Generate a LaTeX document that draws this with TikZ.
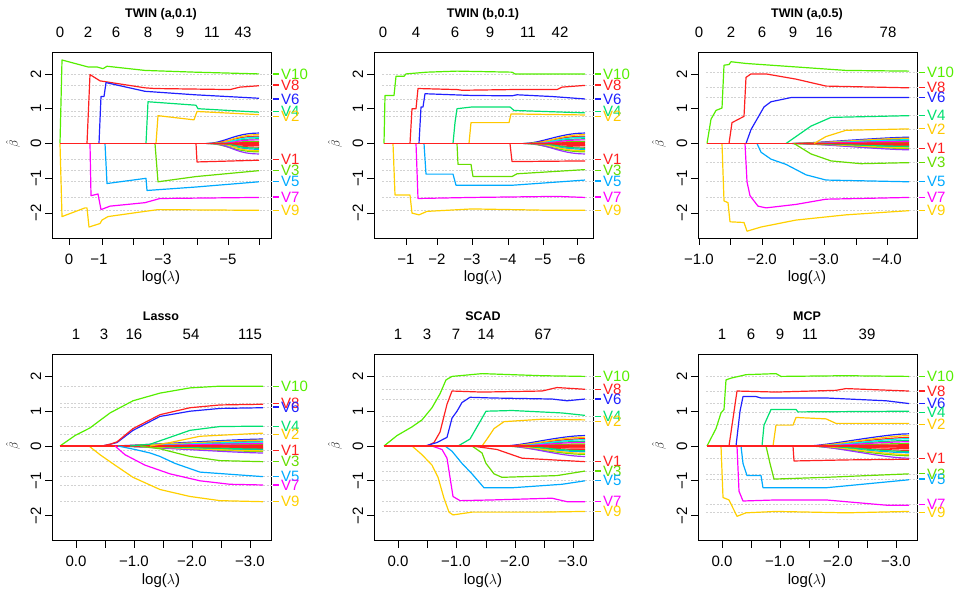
\documentclass[tikz,border=0pt]{standalone}
\usepackage{fontspec}
\setmainfont{Liberation Sans}
\definecolor{V1}{HTML}{FF2020}
\definecolor{V2}{HTML}{FFC800}
\definecolor{V3}{HTML}{66DD00}
\definecolor{V4}{HTML}{00E070}
\definecolor{V5}{HTML}{00AAFF}
\definecolor{V6}{HTML}{2020FF}
\definecolor{V7}{HTML}{FF00FF}
\definecolor{V8}{HTML}{FF2020}
\definecolor{V9}{HTML}{FFD000}
\definecolor{V10}{HTML}{55EE00}
\definecolor{Vc}{HTML}{00EEEE}
\definecolor{Vp}{HTML}{9933FF}
\tikzstyle{frame}=[draw, line width=1pt]
\tikzstyle{tk}=[line width=0.8pt]
\tikzstyle{num}=[font=\fontsize{15}{15}\selectfont, inner sep=0pt]
\tikzstyle{ttl}=[font=\fontsize{12.5}{12.5}\selectfont\bfseries, inner sep=0pt]
\tikzstyle{vname}=[font=\fontsize{15}{15}\selectfont, inner sep=0pt]
\tikzstyle{grid}=[gray!35, dash pattern=on 2pt off 1.5pt, line width=0.6pt]
\tikzstyle{pl}=[line width=1.2pt, line join=round]
\newcommand\vlab[3]{
  \draw[grid] (60,#3) -- (272,#3);
  \draw[#2, line width=1.2pt] (273,#3) -- (279,#3);
  \node[vname, text=#2, anchor=west] (#1#2) at (281,#3) {#2};}
\newcommand\noise[3]{
  \foreach \v/\c [count=\i] in {1/V6,-0.8/V3,0.7/V1,-0.55/V5,0.45/V4,-1/Vp,0.85/V2,-0.35/V8,0.2/V10,-0.7/V9,0.6/Vc,-0.2/V1,0.35/V7,-0.45/V4,0.1/V1,-0.1/V8}
    \draw[pl, \c] ({#1+\i},0) .. controls ({#1+18+\i},0) and ({#2-25},{\v*#3}) .. (#2,{\v*#3});
  \draw[pl, V1] (#1,0) -- (#2,0);}
\newcommand\axes[4]{
  \draw[frame] (52,52) rectangle (271,238);
  \foreach \b in {-2,-1,0,1,2} {
    \draw[tk] (52,{143.5-34.8*\b}) -- (45,{143.5-34.8*\b});
    \node[num, rotate=90] at (36,{143.5-34.8*\b}) {\ifnum\b<0 −\the\numexpr-\b\relax\else\b\fi};}
  \node[num, rotate=90, font=\fontsize{12}{12}\selectfont] (#1beta) at (13,143.5) {$\hat\beta$};
  \node[ttl] (#1title) at (161,14) {#2};
  \node[num] (#1xlab) at (161,278) {log($\lambda$)};}
\begin{document}
\begin{tikzpicture}[x=1pt, y=-1pt]
\useasboundingbox (0,0) rectangle (969,606);
% TWIN (a,0.1)
\begin{scope}[shift={(0,0)}]
  \axes{tl}{TWIN (a,0.1)}{}{}
  \foreach \x/\t in {60/0,88/2,116/6,148/8,180/9,212/11,243/43} \node[num] at (\x,32) {\t};
  \draw[tk] (69,238) -- (259,238);
  \foreach \x in {69,102,133,163,197,228,259} \draw[tk] (\x,238) -- (\x,245);
  \foreach \x/\t in {69/0,99/−1,163/−3,228/−5} \node[num] at (\x,259) {\t};
  \begin{scope}[shift={(0,143.5)}, y=34.8pt]
    \vlab{tl}{V10}{2.0} \vlab{tl}{V8}{1.68} \vlab{tl}{V6}{1.28} \vlab{tl}{V4}{0.93} \vlab{tl}{V2}{0.78}
    \vlab{tl}{V1}{-0.45} \vlab{tl}{V3}{-0.78} \vlab{tl}{V5}{-1.1} \vlab{tl}{V7}{-1.54} \vlab{tl}{V9}{-1.92}
    \noise{205}{259}{0.3}
    \draw[pl, V10] (60,0) -- (62,2.4) -- (88,2.2) -- (97,2.2) -- (103,2.15) -- (107,2.22) -- (145,2.1) -- (195,2.05) -- (259,2.0);
    \draw[pl, V9] (60,0) -- (62,-2.1) -- (85,-1.85) -- (87,-1.85) -- (89,-2.4) -- (100,-2.3) -- (102,-2.2) -- (108,-2.1) -- (145,-1.95) -- (158,-1.9) -- (259,-1.92);
    \draw[pl, V8] (87,0) -- (90,1.98) -- (100,1.8) -- (145,1.6) -- (155,1.58) -- (230,1.55) -- (240,1.62) -- (259,1.66);
    \draw[pl, V7] (90,0) -- (91,-1.5) -- (98,-1.45) -- (101,-1.9) -- (110,-1.8) -- (145,-1.7) -- (160,-1.58) -- (259,-1.55);
    \draw[pl, V6] (99,0) -- (101,1.35) -- (104,1.35) -- (106,1.75) -- (145,1.5) -- (195,1.4) -- (259,1.3);
    \draw[pl, V5] (105,0) -- (107,-1.15) -- (146,-1.0) -- (147,-1.35) -- (196,-1.25) -- (259,-1.1);
    \draw[pl, V4] (146,0) -- (148,1.2) -- (196,1.1) -- (198,1.0) -- (259,0.9);
    \draw[pl, V3] (155,0) -- (158,-1.1) -- (196,-0.95) -- (259,-0.78);
    \draw[pl, V2] (156,0) -- (158,0.8) -- (194,0.68) -- (197,0.92) -- (259,0.83);
    \draw[pl, V1] (196,0) -- (197,-0.53) -- (259,-0.48);
    \draw[pl, V1] (60,0) -- (205,0);
  \end{scope}
\end{scope}
% TWIN (b,0.1)
\begin{scope}[shift={(322,0)}]
  \axes{tm}{TWIN (b,0.1)}{}{}
  \foreach \x/\t in {61/0,94/4,133/6,168/9,206/11,238/42} \node[num] at (\x,32) {\t};
  \draw[tk] (84,238) -- (255,238);
  \foreach \x in {84,115,150,186,221,255} \draw[tk] (\x,238) -- (\x,245);
  \foreach \x/\t in {84/−1,115/−2,150/−3,186/−4,221/−5,255/−6} \node[num] at (\x,259) {\t};
  \begin{scope}[shift={(0,143.5)}, y=34.8pt]
    \vlab{tm}{V10}{2.0} \vlab{tm}{V8}{1.68} \vlab{tm}{V6}{1.28} \vlab{tm}{V4}{0.93} \vlab{tm}{V2}{0.78}
    \vlab{tm}{V1}{-0.45} \vlab{tm}{V3}{-0.78} \vlab{tm}{V5}{-1.08} \vlab{tm}{V7}{-1.54} \vlab{tm}{V9}{-1.92}
    \noise{200}{263}{0.3}
    \draw[pl, V10] (62,0) -- (63,1.38) -- (72,1.38) -- (74,1.93) -- (82,1.93) -- (84,2.0) -- (105,2.05) -- (135,2.08) -- (190,2.05) -- (193,2.0) -- (263,2.0);
    \draw[pl, V9] (71,0) -- (73,-1.48) -- (88,-1.48) -- (90,-2.0) -- (97,-2.05) -- (105,-1.95) -- (150,-1.88) -- (230,-1.92) -- (263,-1.92);
    \draw[pl, V8] (88,0) -- (90,1.0) -- (94,1.0) -- (96,1.58) -- (135,1.55) -- (140,1.53) -- (190,1.55) -- (235,1.55) -- (240,1.62) -- (263,1.67);
    \draw[pl, V7] (94,0) -- (96,-1.58) -- (150,-1.55) -- (235,-1.52) -- (263,-1.55);
    \draw[pl, V6] (97,0) -- (99,1.05) -- (101,1.05) -- (103,1.43) -- (150,1.38) -- (190,1.37) -- (195,1.4) -- (230,1.35) -- (263,1.28);
    \draw[pl, V5] (102,0) -- (104,-0.88) -- (131,-0.88) -- (134,-1.2) -- (190,-1.2) -- (263,-1.05);
    \draw[pl, V4] (131,0) -- (133,0.6) -- (135,1.0) -- (150,1.05) -- (188,1.05) -- (192,0.95) -- (263,0.88);
    \draw[pl, V3] (135,0) -- (136,-0.6) -- (149,-0.6) -- (151,-0.95) -- (190,-0.95) -- (195,-0.87) -- (263,-0.75);
    \draw[pl, V2] (147,0) -- (149,0.6) -- (187,0.6) -- (189,0.85) -- (263,0.82);
    \draw[pl, V1] (188,0) -- (190,-0.52) -- (263,-0.5);
    \draw[pl, V1] (62,0) -- (200,0);
  \end{scope}
\end{scope}
% TWIN (a,0.5)
\begin{scope}[shift={(646,0)}]
  \axes{tr}{TWIN (a,0.5)}{}{}
  \foreach \x/\t in {53/0,85/2,116/6,147/9,178/16,242/78} \node[num] at (\x,32) {\t};
  \draw[tk] (53,238) -- (241,238);
  \foreach \x in {53,84,116,147,178,210,241} \draw[tk] (\x,238) -- (\x,245);
  \foreach \x/\t in {53/−1.0,116/−2.0,178/−3.0,241/−4.0} \node[num] at (\x,259) {\t};
  \begin{scope}[shift={(0,143.5)}, y=34.8pt]
    \vlab{tr}{V10}{2.05} \vlab{tr}{V8}{1.62} \vlab{tr}{V6}{1.32} \vlab{tr}{V4}{0.8} \vlab{tr}{V2}{0.42}
    \vlab{tr}{V1}{-0.15} \vlab{tr}{V3}{-0.55} \vlab{tr}{V5}{-1.1} \vlab{tr}{V7}{-1.55} \vlab{tr}{V9}{-1.93}
    \noise{145}{263}{0.18}
    \draw[pl, V10] (61,0) -- (65,0.7) -- (70,0.95) -- (76,1.02) -- (78,2.25) -- (83,2.27) -- (85,2.35) -- (100,2.3) -- (150,2.2) -- (200,2.1) -- (263,2.08);
    \draw[pl, V9] (76,0) -- (78,-1.65) -- (82,-1.7) -- (84,-2.25) -- (98,-2.27) -- (101,-2.52) -- (115,-2.4) -- (150,-2.2) -- (200,-2.05) -- (263,-1.93);
    \draw[pl, V8] (83,0) -- (86,0.6) -- (98,0.78) -- (100,1.9) -- (105,2.0) -- (120,2.0) -- (150,1.85) -- (180,1.65) -- (263,1.6);
    \draw[pl, V7] (99,0) -- (101,-1.1) -- (104,-1.5) -- (112,-1.8) -- (120,-1.85) -- (150,-1.75) -- (180,-1.6) -- (263,-1.55);
    \draw[pl, V6] (100,0) -- (105,0.4) -- (112,0.75) -- (118,1.05) -- (125,1.2) -- (145,1.32) -- (263,1.32);
    \draw[pl, V5] (111,0) -- (115,-0.25) -- (125,-0.45) -- (140,-0.6) -- (160,-0.9) -- (180,-1.05) -- (263,-1.1);
    \draw[pl, V4] (140,0) -- (150,0.2) -- (165,0.5) -- (185,0.75) -- (263,0.8);
    \draw[pl, V3] (148,0) -- (165,-0.3) -- (185,-0.5) -- (215,-0.58) -- (263,-0.55);
    \draw[pl, V2] (168,0) -- (180,0.2) -- (200,0.38) -- (263,0.42);
    \draw[pl, V1] (61,0) -- (145,0);
  \end{scope}
\end{scope}
% Lasso
\begin{scope}[shift={(0,302.5)}]
  \axes{bl}{Lasso}{}{}
  \foreach \x/\t in {76/1,104/3,134/16,191/54,250/115} \node[num] at (\x,32) {\t};
  \draw[tk] (76,238) -- (250,238);
  \foreach \x in {76,105,134,163,192,221,250} \draw[tk] (\x,238) -- (\x,245);
  \foreach \x/\t in {76/0.0,134/−1.0,192/−2.0,250/−3.0} \node[num] at (\x,259) {\t};
  \begin{scope}[shift={(0,143.5)}, y=34.8pt]
    \vlab{bl}{V10}{1.72} \vlab{bl}{V8}{1.22} \vlab{bl}{V6}{1.12} \vlab{bl}{V4}{0.57} \vlab{bl}{V2}{0.33}
    \vlab{bl}{V1}{-0.12} \vlab{bl}{V3}{-0.45} \vlab{bl}{V5}{-0.88} \vlab{bl}{V7}{-1.12} \vlab{bl}{V9}{-1.6}
    \noise{110}{263}{0.2}
    \draw[pl, V10] (60,0) -- (75,0.3) -- (90,0.52) -- (110,0.95) -- (133,1.3) -- (160,1.52) -- (190,1.67) -- (220,1.72) -- (263,1.72);
    \draw[pl, V9] (89,0) -- (100,-0.25) -- (115,-0.55) -- (133,-0.9) -- (160,-1.25) -- (190,-1.45) -- (220,-1.57) -- (263,-1.6);
    \draw[pl, V6] (102,0) -- (110,0.05) -- (117,0.1) -- (133,0.45) -- (160,0.85) -- (190,1.0) -- (220,1.08) -- (263,1.1);
    \draw[pl, V8] (102,0) -- (110,0.05) -- (117,0.12) -- (133,0.5) -- (160,0.9) -- (190,1.1) -- (220,1.18) -- (263,1.2);
    \draw[pl, V7] (115,0) -- (125,-0.25) -- (145,-0.55) -- (170,-0.8) -- (200,-1.0) -- (230,-1.1) -- (263,-1.12);
    \draw[pl, V5] (118,0) -- (135,-0.1) -- (150,-0.2) -- (160,-0.3) -- (175,-0.5) -- (200,-0.75) -- (263,-0.88);
    \draw[pl, V4] (130,0) -- (150,0.05) -- (165,0.2) -- (190,0.45) -- (220,0.56) -- (263,0.57);
    \draw[pl, V3] (140,0) -- (160,-0.08) -- (190,-0.3) -- (220,-0.42) -- (263,-0.45);
    \draw[pl, V2] (150,0) -- (170,0.1) -- (200,0.28) -- (263,0.37);
    \draw[pl, V1] (60,0) -- (110,0);
  \end{scope}
\end{scope}
% SCAD
\begin{scope}[shift={(322,302.5)}]
  \axes{bm}{SCAD}{}{}
  \foreach \x/\t in {76/1,105/3,134/7,164/14,221/67} \node[num] at (\x,32) {\t};
  \draw[tk] (76,238) -- (251,238);
  \foreach \x in {76,105,134,164,193,222,251} \draw[tk] (\x,238) -- (\x,245);
  \foreach \x/\t in {76/0.0,134/−1.0,193/−2.0,251/−3.0} \node[num] at (\x,259) {\t};
  \begin{scope}[shift={(0,143.5)}, y=34.8pt]
    \vlab{bm}{V10}{2.0} \vlab{bm}{V8}{1.63} \vlab{bm}{V6}{1.35} \vlab{bm}{V4}{0.85} \vlab{bm}{V2}{0.7}
    \vlab{bm}{V1}{-0.45} \vlab{bm}{V3}{-0.72} \vlab{bm}{V5}{-0.98} \vlab{bm}{V7}{-1.6} \vlab{bm}{V9}{-1.88}
    \noise{180}{263}{0.3}
    \draw[pl, V10] (62,0) -- (75,0.3) -- (90,0.55) -- (100,0.75) -- (110,1.1) -- (118,1.5) -- (124,1.9) -- (130,2.0) -- (160,2.08) -- (220,2.02) -- (263,2.0);
    \draw[pl, V9] (90,0) -- (100,-0.25) -- (110,-0.55) -- (116,-0.9) -- (122,-1.5) -- (127,-1.9) -- (131,-1.98) -- (150,-1.9) -- (220,-1.9) -- (263,-1.88);
    \draw[pl, V8] (105,0) -- (112,0.1) -- (118,0.4) -- (125,1.2) -- (130,1.58) -- (160,1.55) -- (220,1.58) -- (235,1.68) -- (263,1.63);
    \draw[pl, V6] (103,0) -- (115,0.1) -- (125,0.25) -- (130,0.8) -- (135,1.0) -- (140,1.25) -- (148,1.4) -- (170,1.38) -- (230,1.35) -- (245,1.3) -- (263,1.35);
    \draw[pl, V7] (110,0) -- (120,-0.1) -- (125,-0.35) -- (128,-0.9) -- (131,-1.45) -- (138,-1.57) -- (170,-1.55) -- (230,-1.5) -- (245,-1.6) -- (263,-1.6);
    \draw[pl, V5] (123,0) -- (130,-0.15) -- (140,-0.5) -- (150,-0.8) -- (162,-1.2) -- (190,-1.2) -- (240,-1.1) -- (263,-1.0);
    \draw[pl, V4] (136,0) -- (148,0.2) -- (158,0.7) -- (164,1.0) -- (190,1.02) -- (240,0.95) -- (263,0.88);
    \draw[pl, V3] (150,0) -- (160,-0.2) -- (164,-0.5) -- (172,-0.8) -- (180,-0.9) -- (235,-0.85) -- (263,-0.72);
    \draw[pl, V2] (160,0) -- (165,0.2) -- (172,0.5) -- (182,0.7) -- (220,0.77) -- (263,0.75);
    \draw[pl, V1] (150,0) -- (175,-0.1) -- (200,-0.35) -- (263,-0.45);
    \draw[pl, V1] (62,0) -- (180,0);
  \end{scope}
\end{scope}
% MCP
\begin{scope}[shift={(646,302.5)}]
  \axes{br}{MCP}{}{}
  \foreach \x/\t in {76/1,105/6,134/9,164/11,221/39} \node[num] at (\x,32) {\t};
  \draw[tk] (76,238) -- (250,238);
  \foreach \x in {76,105,134,163,192,221,250} \draw[tk] (\x,238) -- (\x,245);
  \foreach \x/\t in {76/0.0,134/−1.0,192/−2.0,250/−3.0} \node[num] at (\x,259) {\t};
  \begin{scope}[shift={(0,143.5)}, y=34.8pt]
    \vlab{br}{V10}{2.0} \vlab{br}{V8}{1.58} \vlab{br}{V6}{1.22} \vlab{br}{V4}{0.97} \vlab{br}{V2}{0.62}
    \vlab{br}{V1}{-0.35} \vlab{br}{V3}{-0.8} \vlab{br}{V5}{-0.95} \vlab{br}{V7}{-1.68} \vlab{br}{V9}{-1.9}
    \noise{160}{263}{0.35}
    \draw[pl, V10] (61,0) -- (70,0.5) -- (75,0.95) -- (78,1.05) -- (80,1.9) -- (85,1.95) -- (100,2.05) -- (130,2.08) -- (135,2.0) -- (200,2.02) -- (263,2.0);
    \draw[pl, V9] (75,0) -- (77,-1.48) -- (83,-1.55) -- (91,-2.02) -- (100,-1.92) -- (130,-1.88) -- (200,-1.92) -- (263,-1.88);
    \draw[pl, V8] (83,0) -- (91,1.58) -- (130,1.55) -- (190,1.6) -- (200,1.65) -- (263,1.58);
    \draw[pl, V7] (91,0) -- (93,-1.3) -- (97,-1.58) -- (130,-1.55) -- (180,-1.55) -- (240,-1.7) -- (263,-1.7);
    \draw[pl, V6] (90,0) -- (94,1.0) -- (97,1.42) -- (110,1.42) -- (115,1.38) -- (180,1.38) -- (240,1.3) -- (263,1.22);
    \draw[pl, V5] (95,0) -- (97,-0.5) -- (101,-0.85) -- (115,-0.85) -- (117,-1.2) -- (180,-1.2) -- (263,-0.97);
    \draw[pl, V4] (116,0) -- (118,0.6) -- (125,1.05) -- (150,1.05) -- (152,0.98) -- (263,1.0);
    \draw[pl, V3] (120,0) -- (124,-0.5) -- (128,-0.95) -- (180,-0.9) -- (263,-0.8);
    \draw[pl, V2] (127,0) -- (130,0.6) -- (147,0.6) -- (150,0.82) -- (180,0.78) -- (190,0.65) -- (263,0.65);
    \draw[pl, V1] (147,0) -- (148,-0.43) -- (200,-0.4) -- (263,-0.38);
    \draw[pl, V1] (61,0) -- (160,0);
  \end{scope}
\end{scope}
\end{tikzpicture}
\end{document}
